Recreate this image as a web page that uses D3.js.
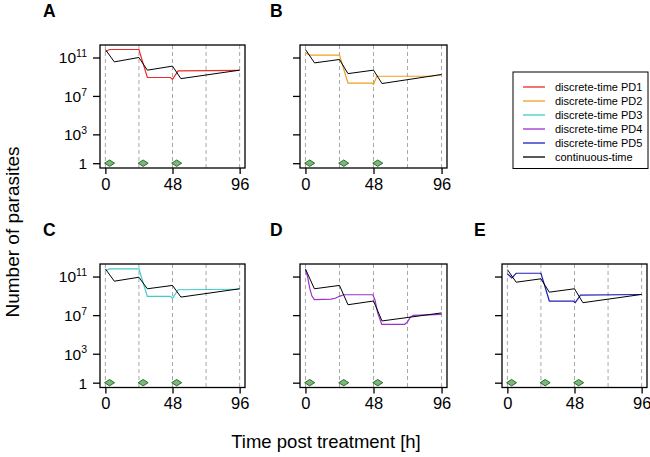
<!DOCTYPE html>
<html><head><meta charset="utf-8">
<script src="https://cdn.jsdelivr.net/npm/d3@7"></script>
<style>
html,body{margin:0;padding:0;background:#fff;}
svg{display:block;font-family:"Liberation Sans",Arial,sans-serif;}
</style></head>
<body>
<svg id="chart" width="650" height="457"></svg>
<script>
// ---------- data ----------
const panelIds = ["A","B","C","D","E"];
const seriesNames = ["discrete-time PD1","discrete-time PD2","discrete-time PD3","discrete-time PD4","discrete-time PD5","continuous-time"];
const seriesColors = ["#ec2a2a","#eea020","#40cccc","#9b30d0","#2020b8","#000000"];
const xTicks = [0,48,96];
const yTicks = [1,1e3,1e7,1e11];
const dashTimes = [0,24,48,72,96];
const doseTimes = [3,27,51];

// continuous-time (black) per panel: [hour, parasites]
const contA = [[0,6.8e11],[6.4,3.5e10],[24,1.0e11],[30,4.8e9],[48,1.26e10],[54,6.3e8],[96,4.8e9]];
const contB = [[0,6.8e11],[6.4,2.75e10],[24,6.2e10],[30,2.1e9],[48,4.8e9],[54,1.95e8],[96,1.7e9]];
const contC = [[0,6.2e11],[6.4,3.3e10],[24,8.5e10],[30,5.4e9],[48,1.2e10],[54,7.4e8],[96,5.4e9]];
const contD = [[0,6.2e11],[6.3,5.4e9],[24,1.2e10],[30,1.2e8],[48,2.9e8],[54,2.5e6],[96,1.7e7]];
const contE = [[0,5.2e11],[6.3,2.6e10],[24,5.8e10],[30,2.4e9],[48,5.4e9],[54,1.95e8],[96,1.4e9]];

// discrete-time models
const pd1 = [[0,4.0e11],[3,6.8e11],[24,6.8e11],[30,8.3e8],[46.5,8.3e8],[48,5.2e8],[52,4.0e9],[96,4.5e9]];
const pd2 = [[0,3.2e11],[3,1.75e11],[24,1.75e11],[30,2.2e8],[47,2.2e8],[48,1.6e8],[50.3,1.12e9],[88,1.12e9],[96,1.6e9]];
const pd3 = [[0,4.0e11],[3,6.2e11],[24,6.2e11],[30,8.7e8],[46.5,8.7e8],[48,5.6e8],[52,4.3e9],[96,4.8e9]];
const pd4 = [[0,5.0e11],[1.5,1.0e11],[3,6.3e9],[4.5,1.0e9],[6.3,4.0e8],[18,4.5e8],[21,5.6e8],[24,8.9e8],[26.9,1.29e9],[47.5,1.29e9],[49,4.0e8],[51,1.6e7],[53.8,1.12e6],[70,1.12e6],[72,2.0e6],[74,6.3e6],[76,9.5e6],[96,1.2e7]];
const pd5 = [[0,1.9e11],[3.2,7.4e10],[6.3,2.2e11],[24,2.2e11],[30,2.9e8],[47,2.9e8],[48.5,2.0e8],[52.3,1.17e9],[96,1.38e9]];

const panelDiscrete = [pd1,pd2,pd3,pd4,pd5];
const panelCont = [contA,contB,contC,contD,contE];

// ---------- layout ----------
const svg = d3.select("#chart");
const cols = [[100,245],[300,447],[502,647]];
const rows = [[45,168],[264,387.5]];
const panelPos = [[0,0],[1,0],[0,1],[1,1],[2,1]];
const labelPos = [[43,17],[270,17],[43,236],[270,236],[474,236]];

panelIds.forEach((id,i)=>{
  const [ci,ri] = panelPos[i];
  const [x0,x1] = cols[ci];
  const [y0,y1] = rows[ri];
  const x = d3.scaleLinear().domain([-3.84,99.84]).range([x0,x1]);
  const y = d3.scaleLog().domain([Math.pow(10,-0.5),Math.pow(10,12.3)]).range([y1,y0]);
  const g = svg.append("g");

  // dashed verticals
  g.selectAll("line.dash").data(dashTimes).enter().append("line")
    .attr("x1",d=>x(d)).attr("x2",d=>x(d)).attr("y1",y0).attr("y2",y1)
    .attr("stroke","#a8a8a8").attr("stroke-width",1).attr("stroke-dasharray","4,3");

  // dose markers
  const mh = 3.2, mw = 5;
  g.selectAll("path.dose").data(doseTimes).enter().append("path")
    .attr("d",d=>{const cx=x(d), cy=y(1); return `M${cx-mw},${cy}L${cx},${cy-mh}L${cx+mw},${cy}L${cx},${cy+mh}Z`;})
    .attr("fill","#7ab87a").attr("stroke","#2e6b2e").attr("stroke-width",1);

  const line = d3.line().x(d=>x(d[0])).y(d=>y(d[1]));
  g.append("path").datum(panelDiscrete[i]).attr("d",line)
    .attr("fill","none").attr("stroke",seriesColors[i]).attr("stroke-width",1.2);
  g.append("path").datum(panelCont[i]).attr("d",line)
    .attr("fill","none").attr("stroke","#000").attr("stroke-width",1);

  // box
  g.append("rect").attr("x",x0).attr("y",y0).attr("width",x1-x0).attr("height",y1-y0)
    .attr("fill","none").attr("stroke","#000").attr("stroke-width",1.3);

  // x axis
  const xa = g.append("g").attr("transform",`translate(0,${y1})`)
    .call(d3.axisBottom(x).tickValues(xTicks).tickSize(6).tickPadding(4).tickFormat(d3.format("d")));
  xa.select(".domain").remove();
  xa.selectAll("line").attr("stroke-width",1.3);
  xa.selectAll("text").attr("font-size",16.5).attr("font-family","Liberation Sans, Arial, sans-serif").attr("fill","#000");

  // y axis
  const ya = g.append("g").attr("transform",`translate(${x0},0)`)
    .call(d3.axisLeft(y).tickValues(yTicks).tickSize(7).tickPadding(4).tickFormat(""));
  ya.select(".domain").remove();
  ya.selectAll("line").attr("stroke-width",1.3);
  if(ci===0){
    ya.selectAll(".tick").each(function(d){
      const t = d3.select(this).select("text");
      t.attr("font-size",15.5).attr("font-family","Liberation Sans, Arial, sans-serif").attr("fill","#000").attr("x",-13).attr("dy","0.35em");
      if(d===1){ t.text("1"); }
      else {
        const e = Math.round(Math.log10(d));
        t.append("tspan").text("10");
        t.append("tspan").text(e).attr("font-size",10.5).attr("dy","-0.6em");
      }
    });
  }

  // panel label
  svg.append("text").attr("x",labelPos[i][0]).attr("y",labelPos[i][1])
    .attr("font-size",17.5).attr("font-weight","bold").text(id);
});

// axis titles
svg.append("text").attr("transform","translate(19,232) rotate(-90)")
  .attr("text-anchor","middle").attr("font-size",19).text("Number of parasites");
svg.append("text").attr("x",326).attr("y",448)
  .attr("text-anchor","middle").attr("font-size",18.5).text("Time post treatment [h]");

// legend
const lg = svg.append("g");
lg.append("rect").attr("x",513).attr("y",72).attr("width",135).attr("height",96.5)
  .attr("fill","#fff").attr("stroke","#000").attr("stroke-width",1);
seriesNames.forEach((n,k)=>{
  const yy = 87 + k*14;
  lg.append("line").attr("x1",523).attr("x2",545).attr("y1",yy).attr("y2",yy)
    .attr("stroke",seriesColors[k]).attr("stroke-width",2).attr("stroke-opacity",0.65);
  lg.append("text").attr("x",555).attr("y",yy).attr("dy","0.35em")
    .attr("font-size",11).text(n);
});
</script>
</body></html>
